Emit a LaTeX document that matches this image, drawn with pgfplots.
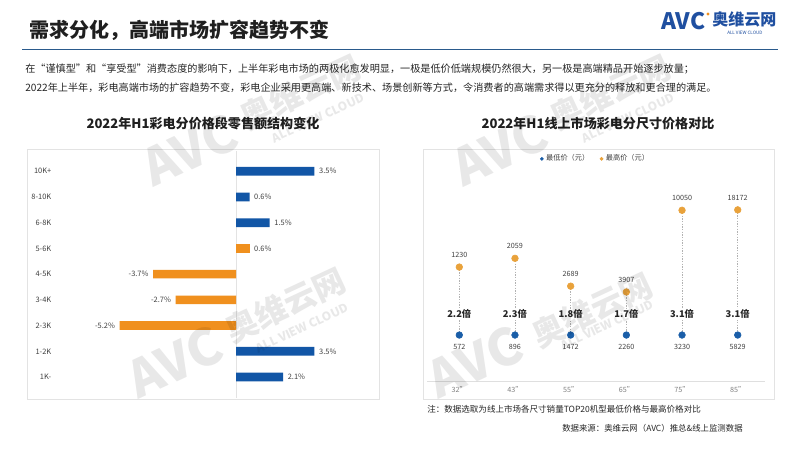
\documentclass[border=0pt]{standalone}
\usepackage{fontspec}
\setmainfont{Noto Sans CJK SC}
\usepackage{pgfplots}
\pgfplotsset{compat=1.18}
\usepackage{pgfplotstable}

\definecolor{barblue}{HTML}{1256A6}
\definecolor{barorange}{HTML}{F0901E}
\definecolor{dotblue}{HTML}{1A5EA8}
\definecolor{dotorange}{HTML}{E9A23B}
\definecolor{hdrblue}{HTML}{2A5A8C}
\definecolor{logoblue}{HTML}{1F4FA0}
\definecolor{lbl}{HTML}{404040}

% left chart: price band, retail share change (pp); row 8 = 10K+ ... row 0 = 1K-
\pgfplotstableread{
row val
8 3.5
7 0.6
6 1.5
1 3.5
0 2.1
}\bluebars
\pgfplotstableread{
row val
5 0.6
}\orangepos
\pgfplotstableread{
row val
4 -3.7
3 -2.7
2 -5.2
}\orangeneg

% right chart: r = hi/lo, base = lo/lo, lab = height of the ratio labels
\pgfplotstableread{
x base lab  r     lo   hi    m
0 1    1.35 2.150 572  1230  2.2
1 1    1.35 2.298 896  2059  2.3
2 1    1.35 1.827 1472 2689  1.8
3 1    1.35 1.729 2260 3907  1.7
4 1    1.35 3.111 3230 10050 3.1
5 1    1.35 3.118 5829 18172 3.1
}\sizes

\newcommand\wmark[3]{% AVC pos, name pos, cloud pos
  \node[rotate=25, opacity=0.09, font=\bfseries\fontsize{38}{38}\selectfont] at #1 {AVC};
  \node[rotate=25, opacity=0.09, font=\bfseries\fontsize{24}{24}\selectfont] at #2 {奥维云网};
  \node[rotate=25, opacity=0.09, font=\bfseries\fontsize{9}{9}\selectfont] at #3 {ALL VIEW CLOUD};
}

\begin{document}
\begin{tikzpicture}[x=0.75pt, y=0.75pt]
\fill[white] (0,0) rectangle (800,450);
\useasboundingbox (0,0) rectangle (800,450);

% header
\node[anchor=base west, inner sep=0, font=\bfseries\fontsize{15}{18}\selectfont, text=black!88] at (29,412.5) {需求分化，高端市场扩容趋势不变};
\draw[hdrblue, line width=1.1pt] (22,400.5) -- (778,400.5);
\node[anchor=west, inner sep=0, font=\bfseries\fontsize{17}{17}\selectfont, text=logoblue] at (661,428.5) {AVC};
\fill[barorange] (708,436) circle (1.3pt);
\node[anchor=west, inner sep=0, font=\bfseries\fontsize{12}{12}\selectfont, text=logoblue] at (712,430.5) {奥维云网};
\node[anchor=west, inner sep=0, font=\fontsize{3.4}{4}\selectfont, text=logoblue] at (727,417.5) {ALL VIEW CLOUD};

\node[anchor=west, inner sep=0, font=\fontsize{7.6}{9}\selectfont, text=black!85] at (25,381) {在“谨慎型”和“享受型”消费态度的影响下，上半年彩电市场的两极化愈发明显，一极是低价低端规模仍然很大，另一极是高端精品开始逐步放量；};
\node[anchor=west, inner sep=0, font=\fontsize{7.6}{9}\selectfont, text=black!85] at (25,362) {2022年上半年，彩电高端市场的扩容趋势不变，彩电企业采用更高端、新技术、场景创新等方式，令消费者的高端需求得以更充分的释放和更合理的满足。};

% chart titles and panels
\node[font=\bfseries\fontsize{9.8}{11}\selectfont, text=black!88] at (203,326) {2022年H1彩电分价格段零售额结构变化};
\node[font=\bfseries\fontsize{9.8}{11}\selectfont, text=black!88] at (598,326) {2022年H1线上市场彩电分尺寸价格对比};
\draw[gray!22, line width=0.6pt] (27,51) rectangle (379,301);
\draw[gray!22, line width=0.6pt] (423,51) rectangle (774,301);

\begin{axis}[
  at={(42pt,39.3pt)}, anchor=south west, scale only axis,
  width=242.25pt, height=185.2pt,
  xmin=-8.04, xmax=6.38, ymin=-0.8, ymax=8.8,
  xbar, bar width=6.5pt, bar shift=0pt,
  axis line style={draw=none},
  xtick=\empty, extra x ticks={0}, extra x tick labels={},
  extra x tick style={grid=major, major grid style={draw=gray!22, line width=0.5pt}},
  ytick={0,...,8},
  yticklabels={1K-,1-2K,2-3K,3-4K,4-5K,5-6K,6-8K,8-10K,10K+},
  major tick length=0pt,
  yticklabel style={font=\fontsize{5.6}{6}\selectfont, text=lbl},
  point meta=x,
  nodes near coords={\pgfmathprintnumber[fixed,fixed zerofill,precision=1,assume math mode=true]{\pgfplotspointmeta}\%},
  every node near coord/.append style={font=\fontsize{5.6}{6}\selectfont, text=lbl},
  clip=false,
]
\addplot[fill=barblue, draw=none] table[x=val, y=row] {\bluebars};
\addplot[fill=barorange, draw=none] table[x=val, y=row] {\orangepos};
\addplot[fill=barorange, draw=none, every node near coord/.append style={anchor=east}] table[x=val, y=row] {\orangeneg};
\end{axis}

\begin{axis}[
  at={(320.25pt,51.2pt)}, anchor=south west, scale only axis,
  width=253.5pt, height=168pt,
  xmin=-0.58, xmax=5.49, ymin=0.21, ymax=4.0,
  axis x line*=bottom, axis y line=none,
  x axis line style={draw=gray!25, line width=0.6pt},
  xtick={0,...,5}, xticklabels={32",43",55",65",75",85"},
  major tick length=0pt,
  xticklabel style={font=\fontsize{5.4}{6}\selectfont, text=gray},
  clip=false,
  legend style={at={(0.5,0.995)}, anchor=center, draw=none, fill=none,
    legend columns=-1, font=\fontsize{5.4}{6}\selectfont, text=lbl,
    /tikz/every even column/.append style={column sep=6pt}},
  legend image post style={mark size=1.2pt},
]
\addplot[draw=none, mark=none, forget plot,
  error bars/.cd, y dir=minus, y explicit, error mark=none,
  error bar style={draw=gray!60, line width=0.5pt, dash pattern=on 1pt off 1pt}]
  table[x=x, y=r, y error minus expr=\thisrow{r}-\thisrow{base}] {\sizes};
\addplot[only marks, mark=*, mark size=2.5pt, mark options={fill=dotblue, draw=dotblue},
  point meta=explicit symbolic, nodes near coords,
  every node near coord/.style={font=\fontsize{5.4}{6}\selectfont, text=lbl, anchor=center, yshift=-8.8pt}]
  table[x=x, y=base, meta=lo] {\sizes};
\addlegendentry{最低价（元）}
\addplot[only marks, mark=*, mark size=2.5pt, mark options={fill=dotorange, draw=dotorange},
  point meta=explicit symbolic, nodes near coords,
  every node near coord/.style={font=\fontsize{5.4}{6}\selectfont, text=lbl, anchor=center, yshift=9pt}]
  table[x=x, y=r, meta=hi] {\sizes};
\addlegendentry{最高价（元）}
\addplot[draw=none, mark=none, forget plot,
  point meta=explicit symbolic, nodes near coords={\pgfplotspointmeta 倍},
  every node near coord/.style={fill=white, inner sep=1pt, font=\bfseries\fontsize{7}{8}\selectfont, text=black!85, anchor=center}]
  table[x=x, y=lab, meta=m] {\sizes};
\end{axis}

% notes
\node[anchor=west, inner sep=0, font=\fontsize{6.4}{7}\selectfont, text=black!85] at (427,41) {注：数据选取为线上市场各尺寸销量TOP20机型最低价格与最高价格对比};
\node[anchor=west, inner sep=0, font=\fontsize{6.3}{7}\selectfont, text=black!85] at (562,22) {数据来源：奥维云网（AVC）推总\&线上监测数据};

% watermarks
\wmark{(190,300)}{(300,358)}{(318,332)}
\wmark{(175,88)}{(285,145)}{(302,122)}
\wmark{(500,300)}{(610,358)}{(628,332)}
\wmark{(475,88)}{(592,140)}{(607,125)}
\end{tikzpicture}
\end{document}
